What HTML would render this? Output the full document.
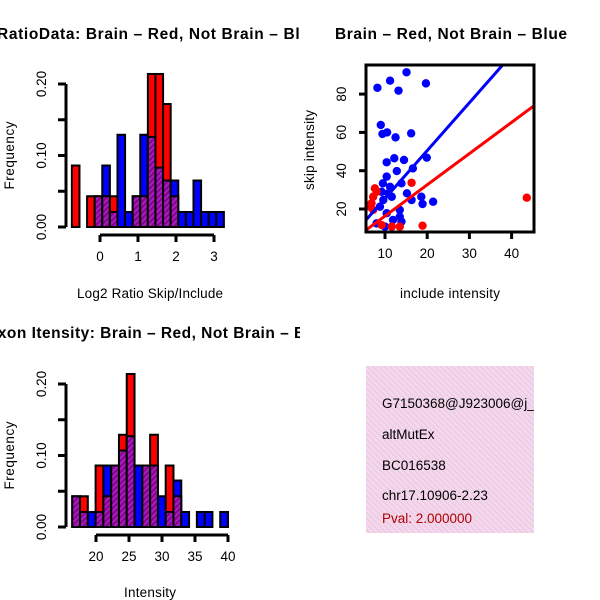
<!DOCTYPE html>
<html><head><meta charset="utf-8"><style>
html,body{margin:0;padding:0;background:#fff;}
svg{display:block;font-family:"Liberation Sans",sans-serif;}
</style></head><body>
<svg id="chart" width="600" height="600" viewBox="0 0 600 600" xmlns="http://www.w3.org/2000/svg">
<defs>
<pattern id="hatch" patternUnits="userSpaceOnUse" width="4" height="4" patternTransform="rotate(45)">
<rect width="4" height="4" fill="#8b008b"/><rect width="2" height="4" fill="#a020c0"/></pattern>
<pattern id="pinkhatch" patternUnits="userSpaceOnUse" width="4" height="4" patternTransform="rotate(-45)">
<rect width="4" height="4" fill="#f8d4f0"/><rect width="1" height="4" fill="#dcd0d4"/></pattern>
<clipPath id="clipL"><rect x="0" y="0" width="300" height="600"/></clipPath>
<clipPath id="clipR"><rect x="300" y="0" width="300" height="600"/></clipPath>
<clipPath id="clipScatter"><rect x="366" y="65" width="168" height="167"/></clipPath>
<clipPath id="clipText"><rect x="366" y="366" width="168" height="167"/></clipPath>
</defs>
<g id="g1" clip-path="url(#clipL)"></g>
<g id="g2" clip-path="url(#clipR)"></g>
<g id="g3" clip-path="url(#clipL)"></g>
<g id="g4">
<rect x="366" y="366" width="168" height="167" fill="url(#pinkhatch)"/>
<g clip-path="url(#clipText)" font-size="13.5">
<text x="382" y="408">G7150368@J923006@j_</text>
<text x="382" y="439">altMutEx</text>
<text x="382" y="470">BC016538</text>
<text x="382" y="500">chr17.10906-2.23</text>
<text x="382" y="523" fill="#b00000">Pval: 2.000000</text>
</g></g>
</svg>
<script>
// Ratio histogram data (bins start, width 0.2)
const ratioBinStart = -0.74;
const ratioBinWidth = 0.2;
const ratioRed  = [0.086,0,0.043,0.043,0.043,0.043,0,0,0.043,0.043,0.214,0.214,0.172,0.043,0,0,0,0,0,0];
const ratioBlue = [0,0,0,0.043,0.086,0.021,0.129,0.021,0.043,0.129,0.126,0.083,0.065,0.065,0.021,0.021,0.065,0.021,0.021,0.021];
const ratioXTicks = [0,1,2,3];
const freqTicks = [0,0.05,0.10,0.15,0.20];
const freqTickLabels = ["0.00","","0.10","","0.20"];
// Intensity histogram data
const intBinStart = 16.4;
const intBinWidth = 1.18;
const intRed  = [0.043,0.043,0,0.086,0.043,0.086,0.129,0.214,0,0.086,0.129,0,0.086,0.043,0,0,0,0,0,0];
const intBlue = [0.043,0.021,0.021,0.021,0.086,0.086,0.107,0.127,0.086,0.086,0.086,0.043,0.021,0.065,0.021,0,0.021,0.021,0,0.021];
const intXTicks = [20,25,30,35,40];
// Scatter data
const blueX = [8.2,11.2,15.1,13.2,19.7,9.0,9.4,10.5,12.5,16.2,10.4,12.2,14.5,12.8,16.6,19.9,10.4,9.5,13.9,15.2,18.6,16.3,18.9,21.4,10.8,11.6,9.6,8.8,10.4,13.5,13.9,10.0,8.0,11.9,9.2,11.2,13.5];
const blueY = [83.3,87.0,91.4,81.8,85.6,63.9,59.2,60.0,57.4,59.5,44.4,46.5,45.6,39.8,41.2,46.8,36.9,33.4,33.4,28.2,26.4,24.7,22.6,23.8,28.2,26.4,24.7,21.2,17.8,19.5,13.4,10.8,12.5,14.3,29.0,31.6,16.0];
const redX = [7.6,7.2,6.8,8.0,16.3,18.9,43.6,9.2,11.6,13.5,7.2,6.4];
const redY = [30.8,26.4,23.0,29.0,33.7,11.3,25.9,11.6,10.8,10.8,19.5,21.2];
const blueFit = [2.5,0.5];  // slope, intercept
const redFit = [1.63,0.04];
const scatterXTicks = [10,20,30,40];
const scatterYTicks = [20,40,60,80];

const NS="http://www.w3.org/2000/svg";
const FS=13.5;
function mk(parent,tag,attrs,text){const e=document.createElementNS(NS,tag);for(const k in attrs)e.setAttribute(k,attrs[k]);if(text!==undefined)e.textContent=text;parent.appendChild(e);return e;}

function histogram(g,opts){
  const {x0,xScale,base,ypx,red,blue,binStart,binWidth,xTicks,title,titleLen,xlabel,xlabLen,axisY,titleY,xlabY} = opts;
  const y = v => base - v*ypx;
  const x = v => x0 + (v)*xScale;
  for(let i=0;i<red.length;i++){
    const l=x(binStart+i*binWidth), r=x(binStart+(i+1)*binWidth);
    const rv=red[i], bv=blue[i], hi=Math.max(rv,bv), lo=Math.min(rv,bv);
    if(hi>0){
      const b=mk(g,'rect',{x:l,y:y(hi),width:r-l,height:base-y(hi),fill:rv>=bv?'#ff0000':'#0000ff',stroke:'#000','stroke-width':2});
      
      
    }
    if(lo>0){
      const p=mk(g,'rect',{x:l,y:y(lo),width:r-l,height:base-y(lo),fill:'url(#hatch)',stroke:'#000','stroke-width':2});
      
      
    }
  }
  const ya=mk(g,'line',{x1:66,x2:66,y1:y(0.2),y2:y(0),stroke:'#000','stroke-width':3});
  
  
  freqTicks.forEach((t,i)=>{
    mk(g,'line',{x1:58,x2:66,y1:y(t),y2:y(t),stroke:'#000','stroke-width':3});
    if(freqTickLabels[i]){
      const tl=mk(g,'text',{x:46,y:y(t),'font-size':FS,'text-anchor':'middle',transform:`rotate(-90 46 ${y(t)})`},freqTickLabels[i]);
      
      
    }
  });
  const yl=mk(g,'text',{x:14,y:(y(0)+y(0.2))/2,'font-size':FS,'text-anchor':'middle',textLength:68,transform:`rotate(-90 14 ${(y(0)+y(0.2))/2})`},'Frequency');
  
  
  const xa=mk(g,'line',{x1:x(xTicks[0]),x2:x(xTicks[xTicks.length-1]),y1:axisY,y2:axisY,stroke:'#000','stroke-width':3});
  
  
  xTicks.forEach(t=>{
    mk(g,'line',{x1:x(t),x2:x(t),y1:axisY,y2:axisY+7,stroke:'#000','stroke-width':3});
    const tl=mk(g,'text',{x:x(t),y:axisY+26,'font-size':FS,'text-anchor':'middle'},String(t));
    
    
  });
  const xl=mk(g,'text',{x:150,y:xlabY,'font-size':FS,'text-anchor':'middle',textLength:xlabLen},xlabel);
  
  
  const tt=mk(g,'text',{x:158,y:titleY,'font-size':15.5,'font-weight':'bold','text-anchor':'middle',textLength:titleLen},title);
  
  
}

histogram(document.getElementById('g1'),{x0:100,xScale:38,base:227,ypx:715,red:ratioRed,blue:ratioBlue,binStart:ratioBinStart,binWidth:ratioBinWidth,xTicks:ratioXTicks,title:'RatioData: Brain \u2013 Red, Not Brain \u2013 Blue',titleLen:322,xlabel:'Log2 Ratio Skip/Include',xlabLen:146,axisY:235,titleY:39,xlabY:298});
histogram(document.getElementById('g3'),{x0:96-20*6.6,xScale:6.6,base:527,ypx:715,red:intRed,blue:intBlue,binStart:intBinStart,binWidth:intBinWidth,xTicks:intXTicks,title:'Exon Itensity: Brain \u2013 Red, Not Brain \u2013 Blue',titleLen:342,xlabel:'Intensity',xlabLen:52,axisY:535,titleY:338,xlabY:597});

(function(){
  const g=document.getElementById('g2');
  const sx=v=>385+(v-10)*4.22, sy=v=>209-(v-20)*1.915;
  const plot=mk(g,'g',{'clip-path':'url(#clipScatter)'});
  blueX.forEach((v,i)=>{const c=mk(plot,'circle',{cx:sx(v),cy:sy(blueY[i]),r:4.2,fill:'#0000ff'});
    
    });
  redX.forEach((v,i)=>{const c=mk(plot,'circle',{cx:sx(v),cy:sy(redY[i]),r:4.2,fill:'#ff0000'});
    
    });
  const xa=0,xb=50;
  const bl=mk(plot,'line',{x1:sx(xa),y1:sy(blueFit[0]*xa+blueFit[1]),x2:sx(xb),y2:sy(blueFit[0]*xb+blueFit[1]),stroke:'#0000ff','stroke-width':3});
  
  
  const rl=mk(plot,'line',{x1:sx(xa),y1:sy(redFit[0]*xa+redFit[1]),x2:sx(xb),y2:sy(redFit[0]*xb+redFit[1]),stroke:'#ff0000','stroke-width':3});
  
  
  const box=mk(g,'rect',{x:366,y:65,width:168,height:167,fill:'none',stroke:'#000','stroke-width':3});
  
  
  scatterXTicks.forEach(t=>{
    mk(g,'line',{x1:sx(t),x2:sx(t),y1:232,y2:239,stroke:'#000','stroke-width':3});
    const tl=mk(g,'text',{x:sx(t),y:258,'font-size':FS,'text-anchor':'middle'},String(t));
    
    
  });
  scatterYTicks.forEach(t=>{
    mk(g,'line',{x1:359,x2:366,y1:sy(t),y2:sy(t),stroke:'#000','stroke-width':3});
    const tl=mk(g,'text',{x:346,y:sy(t),'font-size':FS,'text-anchor':'middle',transform:`rotate(-90 346 ${sy(t)})`},String(t));
    
    
  });
  const xl=mk(g,'text',{x:450,y:298,'font-size':FS,'text-anchor':'middle',textLength:100},'include intensity');
  
  
  const yl=mk(g,'text',{x:314,y:150,'font-size':FS,'text-anchor':'middle',textLength:80,transform:'rotate(-90 314 150)'},'skip intensity');
  
  
  const tt=mk(g,'text',{x:451,y:39,'font-size':15.5,'font-weight':'bold','text-anchor':'middle',textLength:232},'Brain \u2013 Red, Not Brain \u2013 Blue');
  
  
})();
</script>
</body></html>
